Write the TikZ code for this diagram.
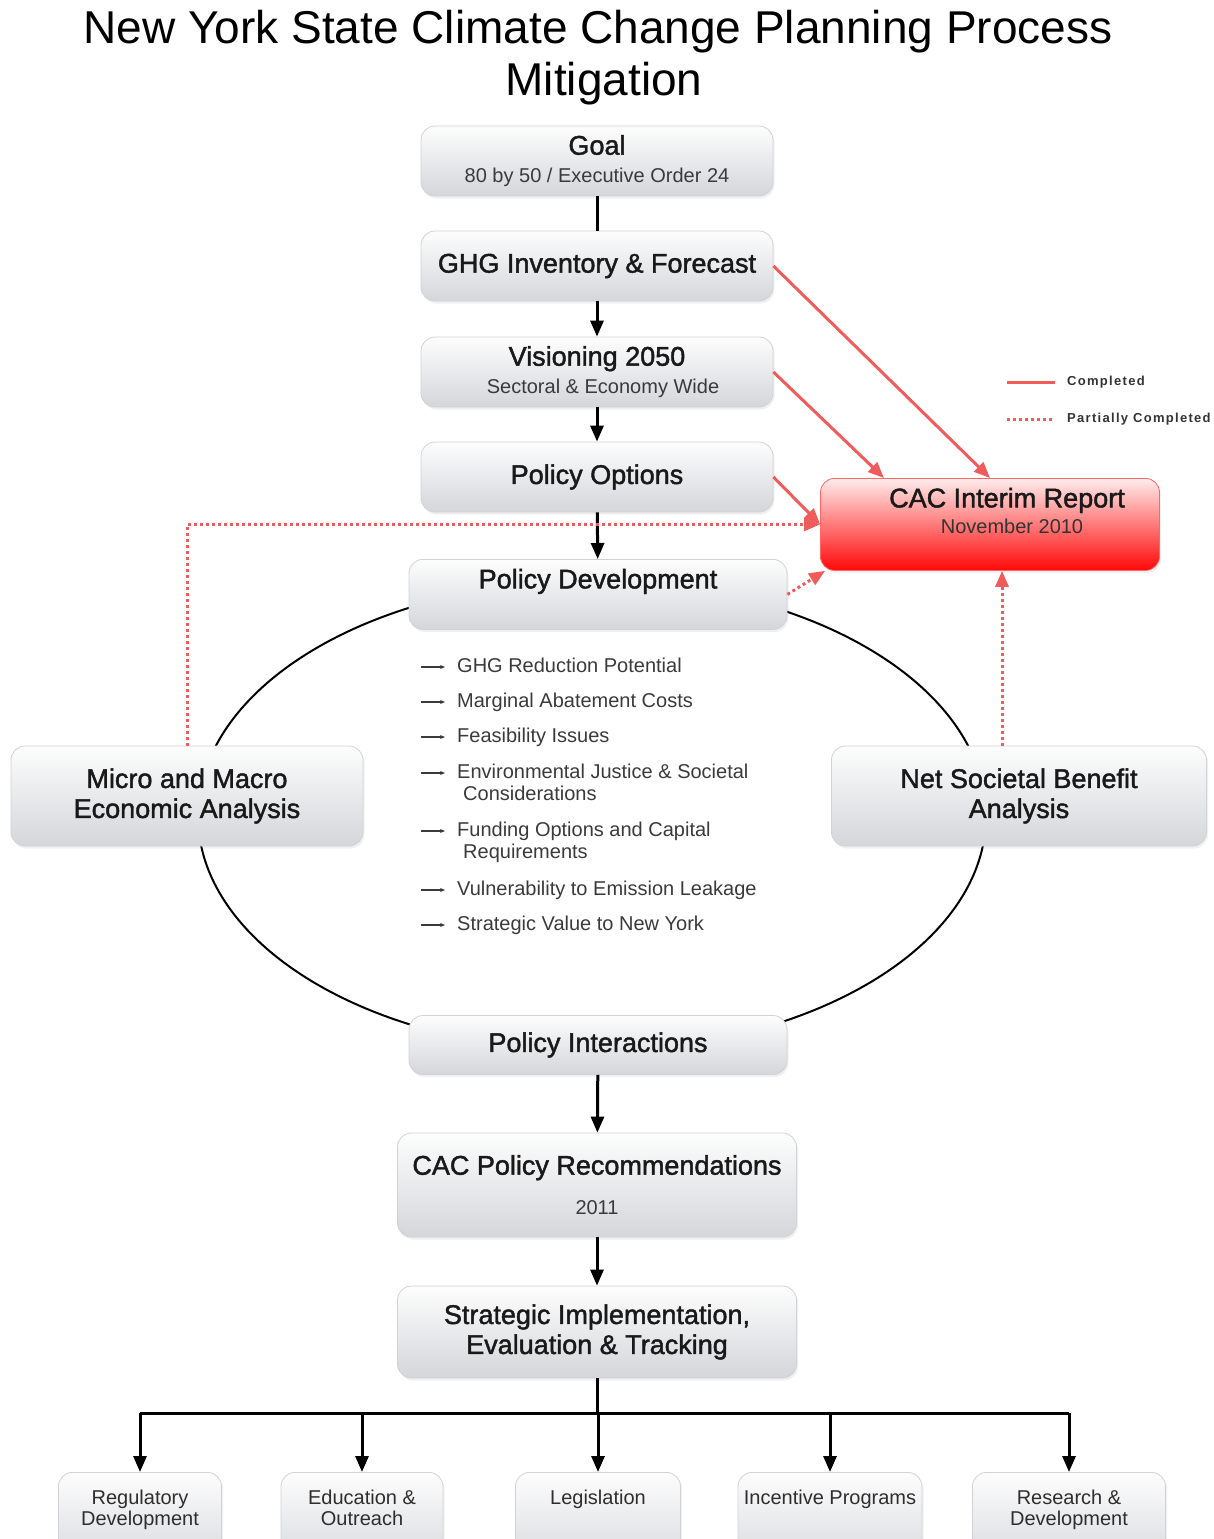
\documentclass[tikz,border=0pt]{standalone}
\usepackage{fontspec}
\setmainfont{Liberation Sans}
\usetikzlibrary{arrows.meta,shadows}

\definecolor{boxtop}{RGB}{253,253,253}
\definecolor{boxbot}{RGB}{212,214,218}
\definecolor{boxline}{RGB}{208,210,213}
\definecolor{donered}{RGB}{240,92,92}
\definecolor{reporttop}{RGB}{255,236,236}
\definecolor{reportbot}{RGB}{255,8,8}
\definecolor{itemgray}{RGB}{58,58,58}

\newcommand{\subtext}{\fontsize{20}{24}\selectfont\addfontfeature{FakeBold=0}\color{itemgray}}
\newcommand{\legendfont}{\fontsize{13}{15}\selectfont\bfseries\addfontfeature{LetterSpace=10}}

\begin{document}
\begin{tikzpicture}[x=1pt,y=-1pt,
  stage/.style={draw=boxline, line width=0.8pt, rounded corners=14pt,
    top color=boxtop, bottom color=boxbot,
    drop shadow={opacity=0.12, shadow xshift=1.5pt, shadow yshift=-2.5pt},
    align=center, inner sep=0pt, text=black!90,
    font=\fontsize{27}{30}\selectfont\addfontfeature{FakeBold=1.6}},
  leaf/.style={stage, anchor=north, text=itemgray!80!black,
    font=\fontsize{20}{21}\selectfont, text height=32pt, text depth=70pt},
  report/.style={stage, top color=reporttop, bottom color=reportbot,
    draw=red!60},
  link/.style={line width=3pt, black},
  arrow/.style={link, -{Triangle[length=16pt,width=13pt]}},
  done/.style={donered, line width=3pt, -{Triangle[length=16pt,width=13pt]}},
  partial/.style={done, dash pattern=on 3pt off 3pt},
  item/.style={anchor=north west, inner sep=0pt, align=left, text=itemgray,
    font=\fontsize{20}{22}\selectfont},
  pointer/.style={itemgray, line width=1.2pt, -{Stealth[length=5pt,width=4pt]}}
]
\useasboundingbox (0,0) rectangle (1214,1539);

% -------------------------------------------------
% Title
% -------------------------------------------------
\node[font=\fontsize{46}{50}\selectfont] (title) at (598,32)
  {New York State Climate Change Planning Process};
\node[font=\fontsize{46}{50}\selectfont] (title2) at (604,84) {Mitigation};

% -------------------------------------------------
% Cycle
% -------------------------------------------------
\draw[line width=2pt] (592,816) ellipse [x radius=394, y radius=235];

% -------------------------------------------------
% Main column
% -------------------------------------------------
\node[stage, minimum width=352, minimum height=70] (goal) at (597,161)
  {Goal\\[-2pt]{\subtext 80 by 50 / Executive Order 24}};
\node[stage, minimum width=352, minimum height=70] (ghg) at (597,266)
  {GHG Inventory \& Forecast};
\node[stage, minimum width=352, minimum height=70] (vision) at (597,372)
  {Visioning 2050\\[-2pt]{\subtext\hspace*{12pt}Sectoral \& Economy Wide}};
\node[stage, minimum width=352, minimum height=70] (options) at (597,477)
  {Policy Options};
\node[stage, anchor=north, minimum width=378, text height=29pt, text depth=41pt]
  (develop) at (598,559) {Policy Development};
\node[stage, minimum width=352, minimum height=100] (micro) at (187,796)
  {Micro and Macro\\Economic Analysis};
\node[stage, minimum width=375, minimum height=100] (net) at (1019,796)
  {Net Societal Benefit\\Analysis};
\node[stage, minimum width=378, minimum height=59] (interact) at (598,1045)
  {Policy Interactions};
\node[stage, minimum width=399, minimum height=104] (recommend) at (597,1185)
  {CAC Policy Recommendations\\[10pt]{\subtext 2011}};
\node[stage, minimum width=399, minimum height=92] (strategic) at (597,1332)
  {Strategic Implementation,\\Evaluation \& Tracking};

% -------------------------------------------------
% Interim report
% -------------------------------------------------
\node[report, anchor=north, minimum width=339, text height=55pt, text depth=37pt]
  (interim) at (990,478)
  {\hspace*{34pt}CAC Interim Report\\[-4pt]{\subtext\color{black!80}\hspace*{44pt}November 2010}};

% -------------------------------------------------
% Criteria inside the cycle
% -------------------------------------------------
\foreach \y/\t in {658/{GHG Reduction Potential},
                   693/{Marginal Abatement Costs},
                   728/{Feasibility Issues},
                   764/{Environmental Justice \& Societal\\\hspace{6pt}Considerations},
                   822/{Funding Options and Capital\\\hspace{6pt}Requirements},
                   881/{Vulnerability to Emission Leakage},
                   916/{Strategic Value to New York}}
{
  \node[item] (crit\y) at (457,\y) {\t};
  \draw[pointer] ([xshift=-36pt,yshift=-9pt]crit\y.north west)
    -- ([xshift=-12pt,yshift=-9pt]crit\y.north west);
}

% -------------------------------------------------
% Implementation tools
% -------------------------------------------------
\node[leaf, minimum width=163, text height=53pt, text depth=49pt] (reg) at (140,1472) {Regulatory\\Development};
\node[leaf, minimum width=162, text height=53pt, text depth=49pt] (edu) at (362,1472) {Education \&\\Outreach};
\node[leaf, minimum width=165] (leg) at (598,1472) {Legislation};
\node[leaf, minimum width=184] (inc) at (830,1472) {Incentive Programs};
\node[leaf, minimum width=193, text height=53pt, text depth=49pt] (res) at (1069,1472) {Research \&\\Development};

% -------------------------------------------------
% Flow
% -------------------------------------------------
\draw[link] (goal) -- (ghg);
\draw[arrow] (ghg) -- (vision);
\draw[arrow] (vision) -- (options);
\draw[arrow] (options) -- (develop);
\draw[arrow] (interact) -- (recommend);
\draw[arrow] (recommend) -- (strategic);

\coordinate (bus) at (597,1413);
\draw[link] (strategic.south) -- (bus);
\draw[link] (bus -| reg.north) -- (bus -| res.north);
\foreach \b in {reg,edu,leg,inc,res}
  \draw[arrow] (bus -| \b.north) -- (\b.north);

% -------------------------------------------------
% Progress towards the interim report
% -------------------------------------------------
\draw[done] (ghg.east) -- (interim.north);
\draw[done] (vision.east) -- ([xshift=-106pt]interim.north);
\draw[done] (options.east) -- (interim.west);
\draw[partial] (micro.north) |- (interim.west);
\draw[partial] (develop.east) -- ([xshift=5pt]interim.south west);
\draw[partial] ([xshift=12pt]interim.south |- net.north) -- ([xshift=12pt]interim.south);

% -------------------------------------------------
% Legend
% -------------------------------------------------
\coordinate (donea) at (1007,382);
\coordinate (doneb) at (1055,382);
\coordinate (parta) at (1007,419);
\coordinate (partb) at (1052,419);
\draw[donered, line width=3pt] (donea) -- (doneb);
\draw[donered, line width=3pt, dash pattern=on 3pt off 3pt] (parta) -- (partb);
\node[anchor=west, inner sep=0pt, font=\legendfont, text=black!80] (donetxt) at (1067,382) {Completed};
\node[anchor=west, inner sep=0pt, font=\legendfont, text=black!80] (parttxt) at (1067,419) {Partially Completed};

\end{tikzpicture}
\end{document}
